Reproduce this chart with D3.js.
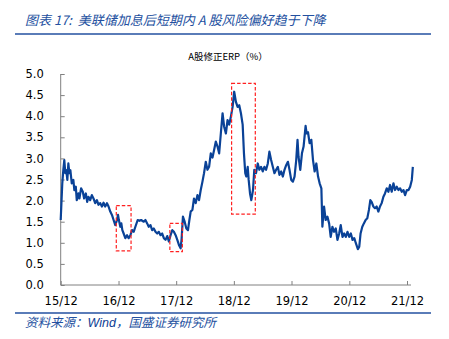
<!DOCTYPE html>
<html><head><meta charset="utf-8">
<script src="https://cdn.jsdelivr.net/npm/d3@7"></script>
<style>body{margin:0;background:#fff}svg{display:block}</style>
</head><body>
<script>
// months elapsed since 2015-12-01
const months = [0,0.33,0.54,0.75,0.96,1.17,1.38,1.59,1.80,2.01,2.30,2.63,2.84,3.14,3.34,3.68,3.89,4.24,4.60,4.87,5.23,5.50,5.77,6.13,6.48,6.82,7.17,7.53,7.86,8.22,8.57,8.91,9.26,9.62,9.95,10.31,10.66,11.00,11.35,11.71,11.92,12.08,12.40,12.61,12.82,13.09,13.44,13.80,14.13,14.49,14.84,15.18,15.53,16.01,16.37,16.72,17.27,17.62,17.98,18.31,18.67,19.02,19.36,19.71,20.07,20.40,20.76,21.11,21.45,21.80,22.16,22.49,22.85,23.21,23.54,23.90,24.25,24.59,24.94,25.15,25.42,25.78,26.13,26.47,26.76,27.03,27.39,27.72,28.08,28.43,28.77,29.12,29.48,29.81,30.17,30.52,30.86,31.21,31.57,31.90,32.26,32.61,32.95,33.30,33.66,33.99,34.35,34.70,35.04,35.39,35.75,36.08,36.44,36.79,37.13,37.48,37.84,38.11,38.38,38.59,38.89,39.09,39.37,39.64,39.99,40.26,40.62,40.98,41.31,41.67,42.02,42.36,42.71,43.07,43.40,43.76,44.11,44.45,44.80,45.16,45.49,45.85,46.20,46.54,46.89,47.25,47.58,47.94,48.29,48.63,48.98,49.25,49.46,49.82,50.17,50.51,50.93,51.14,51.43,51.76,52.12,52.47,52.81,53.16,53.52,53.85,54.21,54.42,54.77,55.11,55.46,55.82,56.15,56.51,56.86,57.20,57.55,57.91,58.24,58.60,58.95,59.29,59.64,60.00,60.34,60.69,61.05,61.38,61.80,62.09,62.36,62.72,63.05,63.41,63.76,64.10,64.39,64.66,65.02,65.35,65.71,66.06,66.40,66.75,67.11,67.44,67.80,68.15,68.49,68.84,69.20,69.53,69.89,70.24,70.58,70.93,71.29,71.62,71.98,72.33,72.67,73.02,73.23];
const erp = [1.54,2.41,2.72,2.96,2.65,2.72,2.49,2.88,2.65,2.72,2.41,2.49,2.25,2.33,2.01,2.17,2.05,2.29,2.21,2.05,2.17,1.97,2.09,2.01,2.13,2.05,1.94,2.01,1.90,1.94,1.86,1.95,1.86,1.94,1.86,1.74,1.66,1.54,1.42,1.54,1.66,1.55,1.38,1.46,1.30,1.22,1.11,1.18,1.11,1.18,1.30,1.26,1.38,1.54,1.52,1.54,1.50,1.54,1.46,1.38,1.42,1.30,1.34,1.26,1.22,1.26,1.18,1.22,1.11,1.07,1.16,1.03,1.18,1.30,1.26,1.18,1.07,0.95,0.87,1.10,1.62,1.50,1.34,1.30,1.54,1.74,1.78,2.05,1.94,2.13,2.01,2.25,2.45,2.65,2.92,2.73,2.80,3.12,3.02,3.20,3.40,3.28,3.12,3.59,4.07,3.75,3.59,3.91,3.80,3.99,4.22,4.58,4.34,4.22,4.26,4.07,3.80,3.12,2.65,2.57,2.80,2.49,2.17,2.01,2.25,2.73,2.65,2.88,2.73,2.80,2.69,2.80,2.73,2.88,3.16,2.96,2.80,2.65,2.73,2.80,2.61,2.69,2.57,2.73,2.84,2.92,2.73,2.49,2.45,2.57,2.96,3.44,3.04,2.73,3.12,3.28,3.77,3.59,3.62,3.36,3.44,2.96,2.69,2.88,2.57,2.41,2.29,1.38,1.86,1.54,1.62,1.46,1.14,1.38,1.26,1.34,1.07,1.22,1.42,1.14,1.22,1.14,1.26,1.14,1.22,1.07,1.11,0.99,0.85,0.91,1.22,1.38,1.46,1.54,1.58,1.78,2.01,1.97,1.86,1.82,1.86,1.74,1.86,1.94,2.09,2.17,2.29,2.21,2.37,2.21,2.41,2.25,2.33,2.25,2.29,2.21,2.25,2.13,2.25,2.25,2.33,2.49,2.80];
const xTickLabels = ["15/12","16/12","17/12","18/12","19/12","20/12","21/12"];
const yTicks = [0,0.5,1,1.5,2,2.5,3,3.5,4,4.5,5];
// highlight boxes (months since 2015-12, ERP range)
const boxStart = [11.56, 22.70, 35.54];
const boxEnd   = [14.63, 25.30, 40.47];
const boxLow   = [0.81, 0.79, 1.68];
const boxHigh  = [1.88, 1.46, 4.78];

const title = "图表 17:  美联储加息后短期内 A 股风险偏好趋于下降";
const subtitle = "A股修正ERP（%）";
const source = ["资料来源：", "Wind", "，国盛证券研究所"];

const W = 449, H = 339;
const blue = "#2350A0";
const base = new Date(2015, 11, 1);
const toDate = m => new Date(base.getTime() + m * 30.4375 * 864e5);

const svg = d3.select("body").append("svg").attr("width", W).attr("height", H);

const x = d3.scaleTime().domain([new Date(2015,11,1), new Date(2021,11,1)]).range([60.7, 407]);
const y = d3.scaleLinear().domain([0, 5]).range([285, 74]);

// Title
svg.append("text").attr("x", 25).attr("y", 25)
  .attr("font-family", "'Noto Sans CJK SC', sans-serif").attr("font-size", 13)
  .attr("font-style", "italic").attr("fill", blue).attr("xml:space", "preserve").style("white-space", "pre").text(title);
svg.append("line").attr("x1", 15).attr("x2", 431).attr("y1", 34).attr("y2", 34)
  .attr("stroke", blue).attr("stroke-width", 1.5);

// subtitle
svg.append("text").attr("x", 228).attr("y", 60).attr("text-anchor", "middle")
  .attr("font-family", "'Noto Sans CJK SC', sans-serif").attr("font-size", 9.5)
  .attr("fill", "#000").text(subtitle);

// Y axis
const yAxis = d3.axisLeft(y).tickValues(yTicks).tickFormat(d3.format(".1f")).tickSize(-4).tickPadding(17);
const gy = svg.append("g").attr("transform", "translate(60.7,0)").call(yAxis);
gy.select(".domain").remove();
gy.append("line").attr("x1", 0).attr("x2", 0).attr("y1", y(5)).attr("y2", y(0)).attr("stroke", "#808080");
gy.selectAll(".tick line").attr("stroke", "#808080");
gy.selectAll(".tick text").attr("font-family", "'DejaVu Sans', sans-serif").attr("font-size", 11.5).attr("fill", "#000");

// X axis
const xTicks = xTickLabels.map((d, i) => new Date(2015 + i, 11, 1));
const xAxis = d3.axisBottom(x).tickValues(xTicks).tickFormat((d, i) => xTickLabels[i]).tickSize(-4).tickPadding(12);
const gx = svg.append("g").attr("transform", `translate(0,${y(0)})`).call(xAxis);
gx.select(".domain").remove();
gx.append("line").attr("x1", x.range()[0]).attr("x2", 411).attr("y1", 0).attr("y2", 0).attr("stroke", "#808080");
gx.selectAll(".tick line").attr("stroke", "#808080");
gx.selectAll(".tick text").attr("font-family", "'DejaVu Sans', sans-serif").attr("font-size", 11.5).attr("fill", "#000");

// series
const data = months.map((m, i) => ({date: toDate(m), v: erp[i]}));
svg.append("path").datum(data)
  .attr("fill", "none").attr("stroke", "#0A4297").attr("stroke-width", 2.2)
  .attr("stroke-linejoin", "round")
  .attr("d", d3.line().x(d => x(d.date)).y(d => y(d.v)));

// dashed boxes
boxStart.forEach((s, i) => {
  const x0 = x(toDate(s)), x1 = x(toDate(boxEnd[i]));
  const y0 = y(boxHigh[i]), y1 = y(boxLow[i]);
  svg.append("rect").attr("x", x0).attr("y", y0).attr("width", x1 - x0).attr("height", y1 - y0)
    .attr("fill", "none").attr("stroke", "#FF2020").attr("stroke-width", 1.2).attr("stroke-dasharray", "3.5,2");
});

// bottom line & source
svg.append("line").attr("x1", 15).attr("x2", 431).attr("y1", 313).attr("y2", 313)
  .attr("stroke", blue).attr("stroke-width", 1.5);
const st = svg.append("text").attr("x", 25).attr("y", 327)
  .attr("font-size", 12.5).attr("font-style", "italic").attr("fill", blue);
st.append("tspan").attr("font-family", "'Noto Sans CJK SC', sans-serif").text(source[0]);
st.append("tspan").attr("font-family", "'Liberation Sans', sans-serif").attr("fill", "#103E94").text(source[1]);
st.append("tspan").attr("font-family", "'Noto Sans CJK SC', sans-serif").text(source[2]);
</script>
</body></html>
